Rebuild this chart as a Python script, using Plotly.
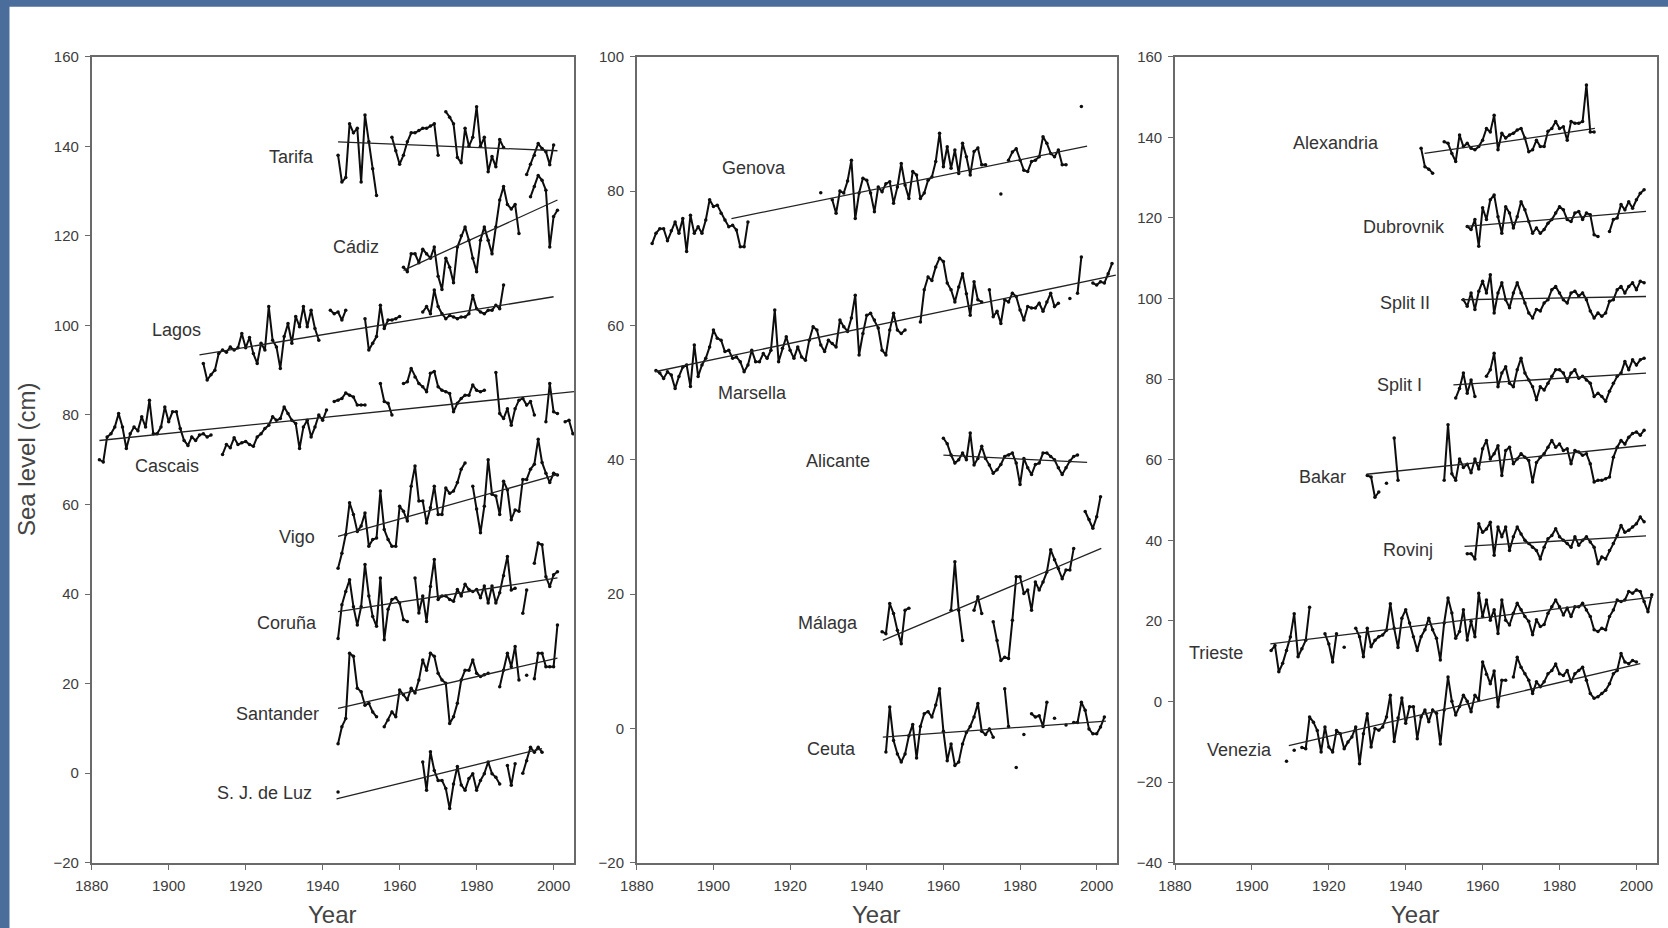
import plotly.graph_objects as go

# ---------------- data (segments: (start_year, [annual values])) ----------------
YEAR_TICKS = [1880, 1900, 1920, 1940, 1960, 1980, 2000]
P1_YTICKS = [-20, 0, 20, 40, 60, 80, 100, 120, 140, 160]
P2_YTICKS = [-20, 0, 20, 40, 60, 80, 100]
P3_YTICKS = [-40, -20, 0, 20, 40, 60, 80, 100, 120, 140, 160]

# Panel 1 (Atlantic / Cantabrian)
TARIFA = [(1944, [138, 132, 133, 145, 143, 144, 132, 147, 141, 135, 129]),
          (1958, [142, 139, 136, 138, 141, 143, 143, 143.5, 144, 144, 144.5, 145, 138]),
          (1972, [147.7, 146.5, 145, 137.5, 136.3, 144, 140, 142, 148.8, 140, 142, 134.3, 137.7, 135.4, 141.5, 139.7]),
          (1993, [133.7, 136, 138, 140.6, 139.5, 138.8, 135.9, 140.3])]
CADIZ = [(1961, [113, 112, 116, 116, 114, 117, 116, 115, 117.5, 111, 108, 115, 113, 109.5, 117.5, 120, 122, 119, 115,
                 112, 119, 122, 119, 116, 122, 128, 131, 127, 126, 127, 120.5]),
         (1994, [128.7, 131, 133.5, 132.4, 130.2, 117.5, 124.3, 125.7])]
LAGOS = [(1909, [91.5, 87.8, 89, 90, 93.7, 94.5, 94, 95.2, 94.5, 95, 98.2, 95, 97.3, 93.7, 91.5, 96, 94.5, 104.2, 96.7,
                 95.2, 90.4, 97.5, 100.4, 96, 102, 99.7, 104.2, 99.7, 103.4, 99.3, 96.7]),
         (1942, [103.4, 102.6, 103, 101.2, 103.4]),
         (1951, [101.5, 94.5, 96, 97.5, 104.5, 99.3, 101.2, 101.2, 101.5, 102]),
         (1966, [103, 104.2, 102.6, 107.9, 104.2, 102.6, 101.5, 102.2, 101.9, 101.5, 101.9, 101.9, 102.6, 106.7, 103.7,
                 103, 102.6, 103.4, 103.4, 104.5, 103.7, 109])]
CASCAIS = [(1882, [70, 69.5, 75.1, 75.8, 77.3, 80.3, 77.3, 72.5, 75.8, 77.3, 76.5, 79.6, 77.3, 83.3, 75.8, 75.8, 77.3,
                   81.8, 78.5, 80.7, 80.7, 77, 74.3, 73.2, 75.1, 74.3, 75.5, 75.8, 75.1, 75.5]),
           (1914, [71.2, 73.4, 72.7, 74.9, 73.4, 73.8, 74.1, 73.4, 73, 75.1, 75.8, 77, 77.7, 79.6, 78.8, 79.2, 81.8, 80.3,
                   78.8, 78.1, 72.5, 77.3, 78.8, 75.1, 77.3, 80, 78.8, 81.1]),
           (1943, [83, 83.3, 83.7, 84.9, 84.4, 84, 82.2, 82.2, 82.2]),
           (1955, [87, 83, 82.6, 80]),
           (1961, [87, 87.4, 90.4, 88.5, 87, 86.3, 85.2, 89.3, 89.7, 86.3, 85.5, 85.2, 84.8, 80.7, 82.6, 83.7, 84.4, 84.4,
                   86.7, 85.5, 85.2, 85.5]),
           (1985, [89.5, 80.3, 79.2, 81.4, 77.7, 81.4, 83.3, 83.7, 82.2, 83, 80]),
           (1998, [78.5, 87, 80.7, 80.3]),
           (2003, [78.5, 78.8, 75.8])]
VIGO = [(1944, [45.8, 49.1, 53.3, 60.4, 57.8, 54, 55.2, 58.1, 50.7, 52.2, 52.5, 63, 54.4, 52.2, 50.7, 50.7, 59.6, 58.5,
                56.3, 64.1, 68.6, 60.8, 60.8, 55.9, 59.3, 64.1, 57.8, 57.8, 63.7, 62.5, 63, 64.9, 67.9, 69.3]),
        (1979, [64.1, 59, 53.7, 59.6, 70, 62.3, 61.9, 57.8, 65.2, 63.3, 56.6, 58.8, 58.5, 65.6, 65.6, 67.9, 69, 74.6,
                69.4, 67, 64.9, 67, 66.6])]
CORUNA = [(1944, [30.1, 37.6, 40.6, 43.2, 37.2, 33.1, 37.2, 46.6, 39.6, 35, 32.8, 43.6, 29.8, 36.6, 38.8, 39.2, 38,
                  34.3, 33.9]),
          (1964, [43.6, 35.8, 39.6, 33.9, 41.7, 47.7, 38.8, 39.6, 39.6, 38.8, 38.4, 41, 39.6, 42.2, 41, 40.6, 41, 39.2,
                  41.8, 38, 41.8, 38, 40.3, 44.1, 48.4, 40.9, 41.3]),
          (1992, [35.7, 40.9]),
          (1995, [46.9, 51.4, 51, 43.9, 41.7, 44.3, 45])]
SANTANDER = [(1944, [6.6, 10.4, 12.2, 26.8, 26.1, 19, 18.2, 15.2, 15.6, 13.7, 12.6]),
             (1956, [10.4, 11.9, 13.7, 12.6, 18.6, 17.5, 16.4, 19, 17.9, 20.8, 25.3, 23, 26.8, 26.1, 22.3, 20.8, 20.1,
                     11.1, 12.6, 15.6, 20.8, 23, 23, 25.3, 22.3, 21.6, 22, 22.3]),
             (1986, [19.3, 23, 26.8, 23.8, 28.3, 20.8]),
             (1993, [21.9]),
             (1995, [21.1, 26.8, 26.8, 23.8, 23.8, 23.8, 33.1])]
SJLUZ = [(1944, [-4.2]),
         (1966, [2.5, -3.8, 4.8, 0.6, -1.6, -1.6, -3.4, -7.9, -2.4, 1.5, -2.6, -3.8, -1.2, -0.1, -3.8, -1.6, -0.1, 2.5,
                 -0.1, -0.9, -2.4]),
         (1988, [1.7, -2.7, 2.1]),
         (1992, [0, 2.8, 5.8, 4.7, 5.8, 4.7])]

# Panel 2 (Western Mediterranean)
GENOVA = [(1884, [72.2, 73.7, 74.4, 74.4, 72.6, 74.1, 75.4, 73.7, 75.9, 71, 76.4, 73.7, 74.7, 73.7, 75.7, 78.7, 77.7,
                  77.9, 76.7, 75.7, 74.7, 74.9, 74.2, 71.7, 71.7, 75.4]),
          (1928, [79.75]),
          (1931, [78.7, 76.7, 80, 79.7, 81.5, 84.6, 75.9, 79.7, 81.9, 81.6, 79.7, 76.9, 80.6, 79.9, 81.1, 81.4, 78.2,
                  80.6, 84.1, 80.9, 78.9, 82.9, 82.4, 78.9, 79.7, 81.6, 82.1, 84.4, 88.6, 83.6, 86.6, 83.4, 86.1, 82.6,
                  87.1, 85.1, 82.4, 85.9, 86.4, 83.9, 83.9]),
          (1975, [79.55]),
          (1977, [84.6, 85.8, 86.3, 84.6, 83.1, 82.9, 84.4, 84.6, 85.1, 88.1, 87.1, 85.6, 85.1, 86.1, 83.9, 83.9]),
          (1996, [92.6])]
MARSELLA = [(1885, [53.3, 52.9, 52.1, 53.1, 52.6, 50.6, 52.4, 53.8, 54.1, 50.9, 57.1, 52.4, 54.1, 55.1, 56.8, 59.3,
                    58.1, 57.8, 56.1, 56.3, 55.1, 55.3, 54.6, 53.1, 54.1, 56.3, 54.6, 54.6, 55.8, 55.1, 56.3, 62.3, 54.6,
                    56.6, 58.3, 56.3, 55.1, 56.8, 55.3, 54.8, 57.8, 59.8, 59.3, 57.1, 56.1, 57.8, 57.3, 56.8, 60.8,
                    59.8, 59.1, 61.1, 64.5, 55.6, 58.8, 61.5, 61.8, 60.8, 59.6, 56.3, 55.6, 59.3, 61.8, 59.3, 58.8,
                    59.3]),
            (1954, [60.5, 65.3, 67.2, 66.7, 68.7, 70, 69.5, 66.3, 65.3, 63.5, 65.7, 67.7, 64.7, 61.5, 66.5, 63.8, 63.5]),
            (1972, [65.3, 61.3, 62.1, 60.3, 63.8, 63.5, 64.8, 64.3, 62.3, 60.8, 62.8, 62.6, 62.6, 63.3, 62.1, 63.5,
                    64.8, 62.8, 63.3]),
            (1993, [64]),
            (1995, [64.8, 70.2]),
            (1999, [66.3, 66, 66.5, 66.3, 67.7, 69.2])]
ALICANTE = [(1960, [43.2, 42.4, 40.7, 39.5, 40, 41, 40, 44, 39.2, 40.2, 42, 40.2, 39.2, 38, 38.5, 39.3, 40.5, 40.7, 41,
                    39.5, 36.3, 40.2, 38.8, 37.8, 39.3, 39.5, 41, 41, 40.5, 40, 38.8, 37.8, 38.8, 39.8, 40.5, 40.7])]
MALAGA = [(1944, [14.4, 14.1, 18.6, 17.1, 14.6, 12.6, 17.6, 17.9]),
          (1962, [17.6, 24.8, 17.6, 13.1]),
          (1968, [17.6, 19.6, 17.1]),
          (1973, [15.9, 13.1, 10.1, 10.6, 10.4, 16.1, 22.6, 22.6, 20.1, 20.6, 17.6, 21.8, 20.6, 21.8, 23.3, 26.6, 25.1,
                  23.8, 22.3, 23.6, 23.6, 26.8]),
          (1997, [32.3, 31.1, 29.8, 31.5, 34.5])]
CEUTA = [(1945, [-3.5, 3.2, -1.8, -3.8, -5, -3.8, -1.1, 0.6, -4.4, 0.3, 2.2, 2.5, 1.7, 3.5, 5.9, -0.4, -4.8, -2.3, -5.5,
                 -5.0, -2.3, -0.6, 0.3, 1.7, 3.7, -0.4, -0.9, -0.1, -1.3]),
         (1976, [5.9, 0.3]),
         (1979, [-5.8]),
         (1981, [-0.9]),
         (1983, [2.2, 1.7, 1.9, 0.3, 3.9]),
         (1989, [1.5]),
         (1992, [0.5]),
         (1994, [0.9, 0.9, 3.9, 2.7, -0.1, -0.8, -0.8, 0.2, 1.7])]

# Panel 3 (Eastern Mediterranean / Adriatic)
ALEXANDRIA = [(1944, [137.3, 132.7, 132.1, 131.1]),
              (1950, [138.9, 138.5, 136, 134, 140.6, 137.7, 138.5, 137.3, 136.9, 137.7, 139.3, 142.2, 141.3, 145.5,
                      136.9, 141, 139.8, 140.6, 141, 141.8, 142.2, 139.8, 136.4, 136.9, 139.3, 137.7, 137.7, 141.5,
                      142.2, 143.9, 142.2, 142.6, 139.3, 143.9, 143.5, 143.5, 143.9, 153, 141.3, 141.3])]
DUBROVNIK = [(1956, [117.9, 117.1, 119.6, 113, 122.5, 119.6, 124.5, 125.7, 120.3, 116.2, 122.8, 121.2, 117.5, 120.3,
                     124, 122, 119.1, 116.2, 117.5, 116.2, 117.1, 118.7, 119.6, 121.2, 122.8, 122, 119.6, 119.1, 121.2,
                     121.6, 119.6, 121.2, 120.8, 115.8, 115.4]),
             (1993, [116.6, 119.6, 120, 123.3, 122, 124, 122.4, 124.5, 126.1, 127])]
SPLIT_II = [(1955, [99.7, 98.1, 101.4, 97.3, 101.8, 104.3, 101.4, 105.9, 96.4, 101.4, 103.9, 99.7, 97.7, 101.4, 103.9,
                    101.4, 98.9, 96.4, 95.2, 97.3, 96.9, 98.9, 99.7, 102.2, 103, 101.4, 99.7, 98.9, 101.4, 101.8, 100.6,
                    101.4, 99.7, 96.9, 95.2, 96.4, 95.6, 96.4, 99.3, 99.7, 102.2, 103, 101.4, 103, 103.9, 102.2, 104.3,
                    103.9])]
SPLIT_I = [(1953, [75.3, 77.7, 81.5, 76.5, 79.8, 75.7]),
           (1961, [80.7, 82.3, 86.4, 78.1, 81.5, 83.1, 79, 78.1, 82.3, 85.2, 81.5, 79.8, 78.1, 74.9, 78.1, 77.3, 79,
                   80.7, 82.3, 82.3, 81.5, 79.4, 81.5, 82.3, 80.2, 80.7, 79.8, 79, 75.7, 76.5, 75.7, 74.5, 77, 79, 80.7,
                   81.5, 84.4, 82.3, 84.8, 83.5, 84.8, 85.2])]
BAKAR = [(1930, [56.1, 55.7, 50.7, 52]),
         (1935, [54.2]),
         (1937, [65.4, 54.9]),
         (1950, [54.9, 68.7, 56.5, 54.9, 60.2, 58.1, 58.9, 56.8, 60.2, 57.7, 62.7, 64.8, 60.2, 61.5, 63.5, 56.1, 62.3,
                 63.1, 59, 60.2, 61.5, 60.6, 59.8, 54.5, 59.3, 60.6, 61.5, 63.1, 64.8, 63.1, 63.9, 62.3, 62.7, 59, 62.3,
                 61.9, 61.1, 61.5, 59, 54.5, 54.9, 54.9, 55.3, 55.7, 60.6, 63.1, 64.8, 63.9, 65.6, 66.5, 66.9, 66.1,
                 67.3])]
ROVINJ = [(1956, [36.7, 36.7, 35.4, 44.1, 42, 42.8, 44.5, 36.3, 43.3, 40.9, 43.3, 37.5, 40.9, 43.3, 41.6, 40, 39.2,
                  38.3, 37.5, 35.4, 38.3, 40.4, 41.2, 42.9, 40.9, 40, 39.2, 38.3, 40.9, 38.8, 40, 40.9, 39.6, 38.3,
                  34.2, 35.9, 35.4, 37.5, 39.2, 41.2, 43.7, 42, 42.5, 43.3, 44.1, 45.8, 44.6])]
TRIESTE = [(1905, [12.7, 13.9, 7.4, 9.5, 12.7, 16, 21.8, 11.1, 13.1, 15.2, 23.4]),
           (1919, [16.8, 14.3, 9.8, 16.8]),
           (1924, [13.5]),
           (1927, [18.2, 16.1, 11.1, 18.2, 13.6, 15.2, 16.1, 16.5, 17.7, 24.3, 18.2, 13.4, 20.7, 22.8, 19.5, 16.1, 12.7,
                   16.1, 17.8, 20.7, 17.8, 15.7, 10.3, 19.5, 25.7, 22, 15.7, 17.4, 22.8, 15.3, 19.9, 16.1, 26.9, 21.1,
                   25.2, 20.2, 22.8, 16.9, 25.2, 20.2, 19, 21.9, 24.4, 22.8, 21.1, 19.9, 16.6, 20.3, 18.6, 19.1, 21.9,
                   23.5, 25.2, 23.5, 21.5, 23.2, 21.1, 23.5, 23.5, 24.4, 22.7, 21.1, 17.8, 17.4, 18.2, 17.8, 21.1, 22.7,
                   25.2, 24.8, 25.2, 27.3, 26.9, 27.7, 27.3, 24.8, 22.3, 26.5])]
VENEZIA = [(1909, [-14.8]),
           (1911, [-12.1]),
           (1913, [-11.4, -11.7, -3.8, -5.1, -7.2, -12.5, -6.3, -11.3, -12.5, -7.2, -8, -11.7, -10, -8.8, -6.3, -15.4,
                   -8, -3, -11.3, -6.7, -7.1, -6.3, -3.8, 1.6, -9.9, -4.1, 0.9, -5.4, -1.3, -1.3, -9.2, -3.8, -2.1, -5,
                   -2.1, -2.9, -10.5, -2.1, 6.1, 0.1, -3.3, -1.2, 1.6, 0.1, -2.5, 1.6, 0.4, 9.8, 6.8, 4.4, 7.6, -1.3,
                   5.3, 5.3]),
           (1968, [6.1, 11, 8.5, 6.9, 5.3, 2, 4.9, 3.7, 4.9, 6.9, 7.7, 9.3, 6.9, 6.5, 7.7, 4.9, 6.9, 7.7, 8.5, 5.3, 2,
                   0.8, 1.2, 2, 2.8, 4.4, 6.9, 7.7, 11.9, 9.8, 9.4, 10.2, 9.8])]

# Linear trends: ((year0, value0), (year1, value1))
TRENDS_P1 = {"Tarifa": ((1944, 141), (2001, 139)), "Cádiz": ((1961, 112.3), (2001, 128)),
             "Lagos": ((1908, 93.4), (2000, 106.4)), "Cascais": ((1882, 74.3), (2005.3, 85.2)),
             "Vigo": ((1944, 52.9), (2001, 66.7)), "Coruña": ((1944, 36.1), (2001, 43.6)),
             "Santander": ((1944, 14.5), (2001, 25.7)), "S. J. de Luz": ((1943.6, -5.7), (1997, 5.5))}
TRENDS_P2 = {"Genova": ((1904.7, 75.9), (1997.5, 86.7)), "Marsella": ((1884.7, 53.1), (2005, 67.5)),
             "Alicante": ((1960, 40.7), (1997.5, 39.6)), "Málaga": ((1944.2, 13.1), (2001.2, 26.8)),
             "Ceuta": ((1944.2, -1.3), (2002.4, 1.1))}
TRENDS_P3 = {"Alexandria": ((1944.9, 136), (1989.2, 142.2)), "Dubrovnik": ((1955.7, 117.9), (2002.5, 121.6)),
             "Split II": ((1954.4, 99.7), (2002.5, 100.5)), "Split I": ((1952.4, 78.6), (2002.5, 81.5)),
             "Bakar": ((1929.8, 56.4), (2002.5, 63.6)), "Rovinj": ((1955.3, 38.5), (2002.5, 41.1)),
             "Trieste": ((1904.8, 14.3), (2004.3, 25.9)), "Venezia": ((1909.6, -10.9), (2001, 9.4))}

SERIES_P1 = {"Tarifa": TARIFA, "Cádiz": CADIZ, "Lagos": LAGOS, "Cascais": CASCAIS, "Vigo": VIGO,
             "Coruña": CORUNA, "Santander": SANTANDER, "S. J. de Luz": SJLUZ}
SERIES_P2 = {"Genova": GENOVA, "Marsella": MARSELLA, "Alicante": ALICANTE, "Málaga": MALAGA, "Ceuta": CEUTA}
SERIES_P3 = {"Alexandria": ALEXANDRIA, "Dubrovnik": DUBROVNIK, "Split II": SPLIT_II, "Split I": SPLIT_I,
             "Bakar": BAKAR, "Rovinj": ROVINJ, "Trieste": TRIESTE, "Venezia": VENEZIA}

# label anchor positions in data coords (year, value)
LABELS_P1 = {"Tarifa": (1932, 137.6), "Cádiz": (1948.6, 117.6), "Lagos": (1902.1, 99.0), "Cascais": (1899.6, 68.6),
             "Vigo": (1933.3, 52.8), "Coruña": (1930.7, 33.5), "Santander": (1928.3, 13.3),
             "S. J. de Luz": (1925.0, -4.4)}
LABELS_P2 = {"Genova": (1910.5, 83.4), "Marsella": (1910.2, 49.9), "Alicante": (1932.4, 39.8),
             "Málaga": (1929.8, 15.7), "Ceuta": (1930.9, -3.0)}
LABELS_P3 = {"Alexandria": (1921.8, 138.5), "Dubrovnik": (1939.5, 117.8), "Split II": (1939.8, 98.8),
             "Split I": (1938.5, 78.5), "Bakar": (1918.3, 55.6), "Rovinj": (1940.6, 37.7),
             "Trieste": (1890.6, 12.0), "Venezia": (1896.9, -12.0)}

# ---------------- figure ----------------
W, H = 1668, 928
FONT = "Arial, Liberation Sans, sans-serif"
fig = go.Figure()


def expand(segments):
    xs, ys = [], []
    for start, vals in segments:
        if xs:
            xs.append(None)
            ys.append(None)
        xs.extend(start + i for i in range(len(vals)))
        ys.extend(vals)
    return xs, ys


panels = [(SERIES_P1, TRENDS_P1, LABELS_P1, "x", "y"),
          (SERIES_P2, TRENDS_P2, LABELS_P2, "x2", "y2"),
          (SERIES_P3, TRENDS_P3, LABELS_P3, "x3", "y3")]

annotations = []
for series, trends, labels, xa, ya in panels:
    for name, segs in series.items():
        xs, ys = expand(segs)
        fig.add_trace(go.Scatter(x=xs, y=ys, mode="lines+markers", xaxis=xa, yaxis=ya,
                                 line=dict(color="#0d0d0d", width=2.0),
                                 marker=dict(color="#0d0d0d", size=3.5),
                                 showlegend=False, hoverinfo="skip"))
    for name, (p0, p1) in trends.items():
        fig.add_trace(go.Scatter(x=[p0[0], p1[0]], y=[p0[1], p1[1]], mode="lines", xaxis=xa, yaxis=ya,
                                 line=dict(color="#222222", width=1.3),
                                 showlegend=False, hoverinfo="skip"))
    for name, (lx, ly) in labels.items():
        annotations.append(dict(x=lx, y=ly, xref=xa, yref=ya, text=name, showarrow=False,
                                font=dict(family=FONT, size=18, color="#333333")))

YDOM = [1 - 862.8 / H, 1 - 56.7 / H]
XDOMS = [[91.7 / W, 574 / W], [636.8 / W, 1117 / W], [1175 / W, 1656.8 / W]]
YRANGES = [[-20, 160], [-20, 100], [-40, 160]]
YTICKS = [P1_YTICKS, P2_YTICKS, P3_YTICKS]

axis_common = dict(showline=True, mirror=True, linecolor="#6a6a6a", linewidth=1.6,
                   ticks="outside", ticklen=5, tickwidth=1.4, tickcolor="#6a6a6a",
                   showgrid=False, zeroline=False, automargin=False,
                   tickfont=dict(family=FONT, size=15, color="#3c3c3c"),
                   ticklabelstandoff=3)

layout_axes = {}
for i in range(3):
    sfx = "" if i == 0 else str(i + 1)
    layout_axes["xaxis" + sfx] = dict(domain=XDOMS[i], range=[1880, 2005.3], tickvals=YEAR_TICKS,
                                      anchor="y" + sfx, **axis_common)
    layout_axes["yaxis" + sfx] = dict(domain=YDOM, range=YRANGES[i], tickvals=YTICKS[i],
                                      anchor="x" + sfx, **axis_common)
    cx = (XDOMS[i][0] + XDOMS[i][1]) / 2
    annotations.append(dict(x=cx, y=1 - 914 / H, xref="paper", yref="paper", text="Year",
                            showarrow=False, xanchor="center", yanchor="middle",
                            font=dict(family=FONT, size=24, color="#444444")))

annotations.append(dict(x=26 / W, y=1 - 460 / H, xref="paper", yref="paper", text="Sea level (cm)",
                        textangle=-90, showarrow=False, xanchor="center", yanchor="middle",
                        font=dict(family=FONT, size=24, color="#444444")))

fig.update_layout(
    width=W, height=H, autosize=False,
    margin=dict(l=0, r=0, t=0, b=0, pad=0),
    paper_bgcolor="#4b6d9c",
    plot_bgcolor="white",
    annotations=annotations,
    shapes=[dict(type="rect", xref="paper", yref="paper", x0=9.5 / W, x1=1.0, y0=0, y1=1 - 6.7 / H,
                 fillcolor="white", line=dict(width=0), layer="below")],
    **layout_axes,
)

fig.write_html("out.html", config={"displayModeBar": False},
               post_script="document.body.style.margin='0px';document.body.style.overflow='hidden';")
